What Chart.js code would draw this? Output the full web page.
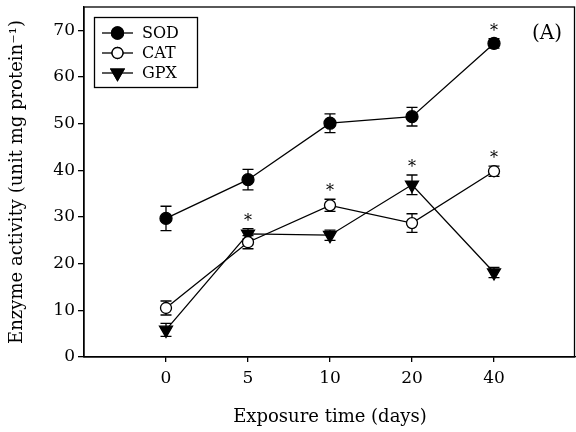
<!DOCTYPE html>
<html>
<head>
<meta charset="utf-8">
<script src="https://cdn.jsdelivr.net/npm/chart.js@4"></script>
<style>
  body { margin: 0; background: #fff; }
  #wrap { width: 576px; height: 432px; }
</style>
</head>
<body>
<div id="wrap"><canvas id="enzChart" width="576" height="432"></canvas></div>
<script>
// exposure days (evenly spaced categories)
const days = ['0', '5', '10', '20', '40'];

// enzyme activity, unit mg protein^-1
const sodVals = [29.7, 38.0, 50.1, 51.5, 67.2];
const sodErr  = [2.6, 2.2, 2.0, 2.0, 1.0];
const catVals = [10.5, 24.6, 32.5, 28.7, 39.8];
const catErr  = [1.5, 1.4, 1.3, 2.0, 1.1];
const gpxVals = [5.8, 26.4, 26.1, 36.9, 18.1];
const gpxErr  = [1.4, 1.1, 1.1, 2.1, 1.1];

// significance asterisks (1 = marked)
const sodSig = [0, 0, 0, 0, 1];
const catSig = [0, 0, 1, 0, 1];
const gpxSig = [0, 1, 0, 1, 0];

const yTicks = [0, 10, 20, 30, 40, 50, 60, 70];

const serif = "'DejaVu Serif', serif";

function pts(vals) {
    return vals.map((v, i) => ({x: i, y: v}));
}

const errInfo = [sodErr, catErr, gpxErr];
const sigInfo = [sodSig, catSig, gpxSig];

// error bars behind the markers, asterisks on top
const errorBars = {
    id: 'errorBars',
    beforeDatasetsDraw(chart) {
        const ctx = chart.ctx;
        const ys = chart.scales.y;
        ctx.save();
        ctx.strokeStyle = '#000';
        ctx.lineWidth = 1.3;
        chart.data.datasets.forEach((ds, di) => {
            const meta = chart.getDatasetMeta(di);
            meta.data.forEach((p, i) => {
                const v = ds.data[i].y, e = errInfo[di][i];
                const top = ys.getPixelForValue(v + e);
                const bot = ys.getPixelForValue(v - e);
                ctx.beginPath();
                ctx.moveTo(p.x, top); ctx.lineTo(p.x, bot);
                ctx.moveTo(p.x - 5.5, top); ctx.lineTo(p.x + 5.5, top);
                ctx.moveTo(p.x - 5.5, bot); ctx.lineTo(p.x + 5.5, bot);
                ctx.stroke();
            });
        });
        ctx.restore();
    },
    afterDatasetsDraw(chart) {
        const ctx = chart.ctx;
        const ys = chart.scales.y;
        ctx.save();
        ctx.fillStyle = '#000';
        ctx.font = '16px ' + serif;
        ctx.textAlign = 'center';
        ctx.textBaseline = 'middle';
        chart.data.datasets.forEach((ds, di) => {
            const meta = chart.getDatasetMeta(di);
            meta.data.forEach((p, i) => {
                if (!sigInfo[di][i]) return;
                const top = ys.getPixelForValue(ds.data[i].y + errInfo[di][i]);
                ctx.fillText('*', p.x, top - 7);
            });
        });
        ctx.restore();
    }
};

// frame, legend box and panel letter
const decor = {
    id: 'decor',
    afterDraw(chart) {
        const ctx = chart.ctx;
        const a = chart.chartArea;
        ctx.save();
        ctx.strokeStyle = '#000';
        ctx.lineWidth = 1.3;
        ctx.strokeRect(a.left, a.top, a.right - a.left - 1.5, a.bottom - a.top);

        // legend
        ctx.strokeRect(94.5, 17.5, 103, 70);
        ctx.font = '16px ' + serif;
        ctx.textBaseline = 'middle';
        ctx.textAlign = 'left';
        chart.data.datasets.forEach((ds, di) => {
            const y = 33 + di * 20;
            ctx.beginPath();
            ctx.moveTo(102, y); ctx.lineTo(133, y);
            ctx.stroke();
            Chart.helpers.drawPoint(ctx, {
                pointStyle: ds.pointStyle,
                rotation: ds.pointRotation || 0,
                radius: ds.pointRadius,
                borderWidth: ds.pointBorderWidth
            }, 117.5, y);
            ctx.fillStyle = ds.pointBackgroundColor;
            ctx.strokeStyle = '#000';
            ctx.fill();
            ctx.stroke();
            ctx.fillStyle = '#000';
            ctx.fillText(ds.label, 142, y + 1);
        });

        ctx.font = '20px ' + serif;
        ctx.textAlign = 'center';
        ctx.fillText('(A)', 547, 34);
        ctx.restore();
    }
};

function makeSet(label, vals, style, fill, radius, rot) {
    return {
        label: label,
        data: pts(vals),
        borderColor: '#000',
        borderWidth: 1.3,
        pointStyle: style,
        pointRotation: rot || 0,
        pointRadius: radius,
        pointBorderWidth: 1.3,
        pointBackgroundColor: fill,
        pointBorderColor: '#000',
        showLine: true
    };
}

function noPad(s) {
    s.paddingLeft = 0; s.paddingRight = 0;
    s.paddingTop = 0; s.paddingBottom = 0;
}

const chart = new Chart(document.getElementById('enzChart').getContext('2d'), {
    type: 'scatter',
    data: {
        datasets: [
            makeSet('SOD', sodVals, 'circle', '#000', 6),
            makeSet('CAT', catVals, 'circle', '#fff', 5.5),
            makeSet('GPX', gpxVals, 'triangle', '#000', 7.5, 180)
        ]
    },
    options: {
        responsive: false,
        animation: false,
        devicePixelRatio: 1,
        layout: { autoPadding: false, padding: { top: 7, right: 0, left: 0, bottom: 0 } },
        plugins: {
            legend: { display: false },
            tooltip: { enabled: false }
        },
        scales: {
            x: {
                type: 'linear',
                min: -1,
                max: 5,
                afterBuildTicks: s => { s.ticks = days.map((d, i) => ({value: i})); },
                afterFit: s => { s.height = 75; noPad(s); },
                ticks: {
                    color: '#000',
                    font: { family: serif, size: 17 },
                    padding: 6,
                    callback: v => days[v]
                },
                grid: { drawOnChartArea: false, tickLength: 5, color: '#000', lineWidth: 1.3 },
                border: { color: '#000', width: 1.3 },
                title: {
                    display: true,
                    text: 'Exposure time (days)',
                    color: '#000',
                    font: { family: serif, size: 18 },
                    padding: { top: 11 }
                }
            },
            y: {
                min: 0,
                max: 75,
                afterBuildTicks: s => { s.ticks = yTicks.map(v => ({value: v})); },
                afterFit: s => { s.width = 84; noPad(s); },
                ticks: {
                    color: '#000',
                    font: { family: serif, size: 17 },
                    padding: 3
                },
                grid: { drawOnChartArea: false, tickLength: 6, color: '#000', lineWidth: 1.3 },
                border: { color: '#000', width: 1.3 },
                title: {
                    display: true,
                    text: 'Enzyme activity (unit mg protein\u207B\u00B9)',
                    color: '#000',
                    font: { family: serif, size: 18 },
                    padding: { top: 7, bottom: 0 }
                }
            }
        }
    },
    plugins: [errorBars, decor]
});
</script>
</body>
</html>
